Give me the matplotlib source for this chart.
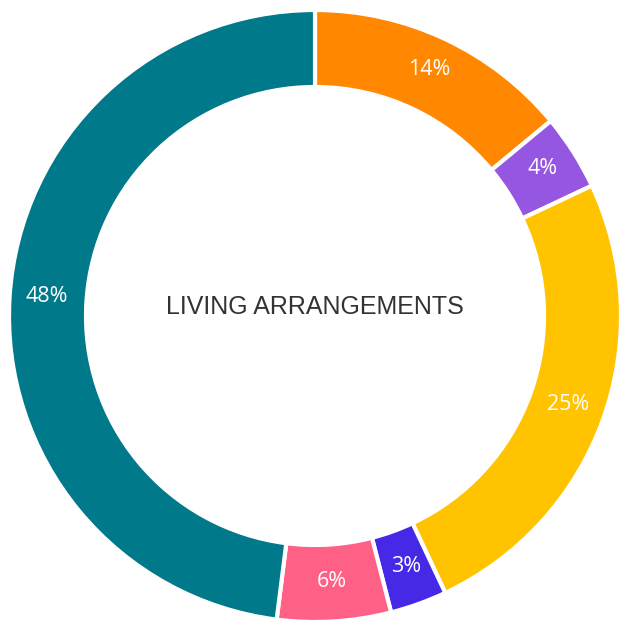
import matplotlib
matplotlib.use('Agg')
import matplotlib.pyplot as plt

labels = ['Group 1', 'Group 2', 'Group 3', 'Group 4', 'Group 5', 'Group 6']
values = [14, 4, 25, 3, 6, 48]
colors = ['#FF8800', '#9556E1', '#FFC300', '#4529E6', '#FF6085', '#007A8A']
center_title = 'LIVING ARRANGEMENTS'

fig = plt.figure(figsize=(6.2, 6.24), dpi=100)
ax = fig.add_axes([0, 0, 1, 1])

cx, cy = 315, 308
R = 306
wedges, texts, autotexts = ax.pie(
    values, colors=colors, radius=R, center=(cx, cy),
    startangle=90, counterclock=False,
    autopct='%d%%', pctdistance=0.88,
    wedgeprops=dict(width=77, edgecolor='white', linewidth=3, joinstyle='round'),
    textprops=dict(color='white', fontsize=15.5, family=['Open Sans', 'DejaVu Sans']),
    frame=True)
# nudge the percent labels up a little, the text box sits low
for t in autotexts:
    x, y = t.get_position()
    t.set_position((x, y + 3))

ax.set_xlim(0, 620)
ax.set_ylim(0, 624)
ax.set_aspect('equal')
ax.axis('off')

ax.text(cx, 317, center_title, ha='center', va='center', fontsize=18,
        color='#333333', family=['Liberation Sans', 'DejaVu Sans'])

fig.savefig('out.png', dpi=100)
